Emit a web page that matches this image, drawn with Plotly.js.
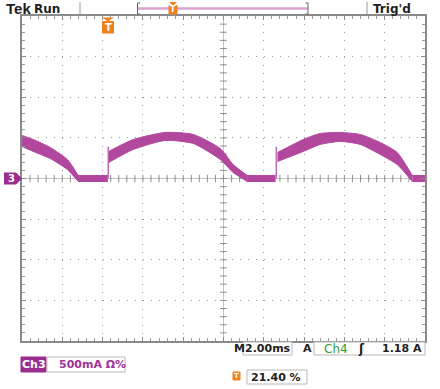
<!DOCTYPE html>
<html>
<head>
<meta charset="utf-8">
<script src="https://cdn.plot.ly/plotly-3.0.1.min.js"></script>
<style>html,body{margin:0;padding:0;background:#fff;}#chart{width:440px;height:389px;}</style>
</head>
<body>
<div id="chart"></div>
<script>
// ---- data (time in ms relative to trigger, current in A) ----
const seg1Time  = [-4.28, -3.72, -2.88, -2.03, -1.49];
const seg1Upper = [0.530, 0.480, 0.382, 0.234, 0.037];
const seg1Lower = [0.394, 0.333, 0.246, 0.111, -0.037];

const seg2Time  = [0.02, 1.24, 2.83, 4.22, 5.56, 6.20, 6.90];
const seg2Upper = [0.333, 0.480, 0.567, 0.542, 0.369, 0.172, 0.037];
const seg2Lower = [0.197, 0.357, 0.468, 0.431, 0.234, 0.074, -0.037];

const seg3Time  = [8.40, 9.68, 10.52, 11.51, 12.51, 13.50, 14.34, 15.09];
const seg3Upper = [0.320, 0.480, 0.554, 0.567, 0.542, 0.443, 0.320, 0.037];
const seg3Lower = [0.209, 0.333, 0.419, 0.456, 0.419, 0.296, 0.172, -0.037];

// flat (zero-current) stretches
const flatStart = [-1.49, 6.90, 15.09];
const flatEnd   = [-0.02, 8.30, 15.72];
const flatUpper = 0.037;
const flatLower = -0.037;

const spikeTimes = [0.0, 8.34];
const spikeHeight = 0.394;

const xRange = [-4.28, 15.72];   // 10 div x 2.00 ms, trigger at 21.40 %
const yRange = [-2, 2];          // 8 div x 500 mA

// ---- styling ----
const WAVE = '#b2479e';
const PL = 22, PR = 425, PT = 16, PB = 341;
const px = x => (x - PL) / (PR - PL);
const py = y => (PB - y) / (PB - PT);
const FONT = 'DejaVu Sans, Verdana, sans-serif';

const traces = [];
function band(t, up, lo, shape) {
  const ln = {color: WAVE, width: 1, shape: shape};
  if (shape === 'spline') ln.smoothing = 0.6;
  traces.push({x: t, y: up, mode: 'lines', line: ln, hoverinfo: 'skip', showlegend: false});
  traces.push({x: t, y: lo, mode: 'lines', fill: 'tonexty', fillcolor: WAVE, line: ln, hoverinfo: 'skip', showlegend: false});
}
band(seg1Time, seg1Upper, seg1Lower, 'spline');
band(seg2Time, seg2Upper, seg2Lower, 'spline');
band(seg3Time, seg3Upper, seg3Lower, 'spline');
flatStart.forEach((s, i) => band([s, flatEnd[i]], [flatUpper, flatUpper], [flatLower, flatLower], 'linear'));
spikeTimes.forEach(t => {
  traces.push({x: [t, t], y: [0, spikeHeight], mode: 'lines', line: {color: '#c46bb5', width: 1.5}, hoverinfo: 'skip', showlegend: false});
});

const shapes = [];
// center cross
shapes.push({type: 'line', xref: 'x', yref: 'y', x0: xRange[0], x1: xRange[1], y0: 0, y1: 0, line: {color: '#c4c4c4', width: 1}, layer: 'below'});
shapes.push({type: 'line', xref: 'x', yref: 'y', x0: 5.72, x1: 5.72, y0: yRange[0], y1: yRange[1], line: {color: '#c4c4c4', width: 1}, layer: 'below'});
for (let i = 1; i < 50; i++) {
  const t = xRange[0] + 0.4 * i;
  shapes.push({type: 'line', xref: 'x', yref: 'y', x0: t, x1: t, y0: -0.045, y1: 0.045, line: {color: '#909090', width: 1}, layer: 'below'});
}
for (let i = 1; i < 40; i++) {
  const a = yRange[0] + 0.1 * i;
  shapes.push({type: 'line', xref: 'x', yref: 'y', x0: 5.55, x1: 5.89, y0: a, y1: a, line: {color: '#909090', width: 1}, layer: 'below'});
}
// header decorations
const pline = (x0, y0, x1, y1, color, w) => ({type: 'line', xref: 'paper', yref: 'paper', x0: px(x0), x1: px(x1), y0: py(y0), y1: py(y1), line: {color: color, width: w}});
shapes.push(pline(80, 2, 80, 15, '#9a9a9a', 1));
shapes.push(pline(367, 2, 367, 15, '#9a9a9a', 1));
shapes.push(pline(138, 8.5, 308, 8.5, '#d9a2d3', 2.5));
shapes.push({type: 'path', xref: 'paper', yref: 'paper', path: `M ${px(140)} ${py(3)} L ${px(137.5)} ${py(3)} L ${px(137.5)} ${py(14)} L ${px(140)} ${py(14)}`, line: {color: '#666', width: 1}});
shapes.push({type: 'path', xref: 'paper', yref: 'paper', path: `M ${px(305.5)} ${py(3)} L ${px(308)} ${py(3)} L ${px(308)} ${py(14)} L ${px(305.5)} ${py(14)}`, line: {color: '#666', width: 1}});
// trigger marker triangles
const tri = (cx, ytop, hw) => ({type: 'path', xref: 'paper', yref: 'paper', path: `M ${px(cx - hw)} ${py(ytop)} L ${px(cx + hw)} ${py(ytop)} L ${px(cx)} ${py(ytop + 4)} Z`, fillcolor: '#f0821e', line: {width: 0}});
shapes.push(tri(108, 17.5, 6));
shapes.push(tri(173, 2, 4));
// trigger marker bodies
const prect = (x0, y0, x1, y1, fill, lc) => ({type: 'rect', xref: 'paper', yref: 'paper', x0: px(x0), x1: px(x1), y0: py(y0), y1: py(y1), fillcolor: fill, line: {color: lc, width: 1}});
shapes.push(prect(102.5, 21.5, 113.5, 33, '#f0821e', '#f0821e'));
shapes.push(prect(169, 5.5, 177, 14, '#f0821e', '#f0821e'));
// ground marker "3"
shapes.push({type: 'path', xref: 'paper', yref: 'paper', path: `M ${px(4)} ${py(172.5)} L ${px(16)} ${py(172.5)} L ${px(22)} ${py(178.5)} L ${px(16)} ${py(184.5)} L ${px(4)} ${py(184.5)} Z`, fillcolor: '#9b2d8f', line: {width: 0}});
// readout boxes
shapes.push(prect(21, 357, 46, 372, '#9b2d8f', '#9b2d8f'));
shapes.push(prect(47, 357, 125, 372, '#ffffff', '#b8b8b8'));
shapes.push(prect(243, 342, 292, 355, '#ffffff', '#b8b8b8'));
shapes.push(prect(314, 342, 425, 355, '#ffffff', '#b8b8b8'));
shapes.push(prect(233, 372, 240, 380, '#f0821e', '#f0821e'));
shapes.push(prect(247, 370, 307, 384, '#ffffff', '#b8b8b8'));

const ann = (x, y, text, opts) => Object.assign({xref: 'paper', yref: 'paper', x: px(x), y: py(y), text: text, showarrow: false, xanchor: 'left', yanchor: 'middle', font: {family: FONT, size: 11, color: '#222'}}, opts || {});
const annotations = [
  ann(4, 8.5, '<b>Tek</b>', {font: {family: 'Liberation Sans, Arial, sans-serif', size: 15, color: '#1e1e1e'}}),
  ann(32, 8.5, '<b>Run</b>', {font: {family: FONT, size: 12, color: '#1e1e1e'}}),
  ann(371, 8.5, "<b>Trig'd</b>", {font: {family: FONT, size: 12, color: '#1e1e1e'}}),
  ann(173, 10, '<b>T</b>', {xanchor: 'center', font: {family: FONT, size: 8, color: '#fff'}}),
  ann(108, 27.5, '<b>T</b>', {xanchor: 'center', font: {family: FONT, size: 10, color: '#fff'}}),
  ann(11, 178.5, '<b>3</b>', {xanchor: 'center', font: {family: FONT, size: 10, color: '#fff'}}),
  ann(33.5, 364.5, '<b>Ch3</b>', {xanchor: 'center', font: {family: FONT, size: 11, color: '#fff'}}),
  ann(57, 364.5, '<b>500mA Ω%</b>', {font: {family: FONT, size: 11, color: '#a0339a'}}),
  ann(232, 348.5, '<b>M</b>'),
  ann(267.5, 348.5, '<b>2.00ms</b>', {xanchor: 'center'}),
  ann(301, 348.5, '<b>A</b>'),
  ann(322, 348.5, 'Ch4', {font: {family: FONT, size: 12, color: '#2e9e3a'}}),
  ann(361, 348.5, '<b>ʃ</b>', {xanchor: 'center', font: {family: FONT, size: 12, color: '#222'}}),
  ann(424, 348.5, '<b>1.18 A</b>', {xanchor: 'right'}),
  ann(236.5, 376, '<b>T</b>', {xanchor: 'center', font: {family: FONT, size: 7, color: '#fff'}}),
  ann(249, 377, '<b>21.40 %</b>')
];

const axisCommon = {
  showticklabels: false, zeroline: false, showline: true, linecolor: '#8a8a8a', linewidth: 2,
  mirror: 'ticks', ticks: 'inside', ticklen: 4, tickcolor: '#8a8a8a', tickwidth: 1,
  showgrid: true, gridcolor: '#9a9a9a', gridwidth: 1
};
const layout = {
  width: 440, height: 389,
  margin: {l: PL, r: 440 - PR, t: PT, b: 389 - PB},
  paper_bgcolor: '#ffffff', plot_bgcolor: '#ffffff',
  showlegend: false,
  xaxis: Object.assign({}, axisCommon, {range: xRange, tick0: xRange[0], dtick: 2, griddash: '1px,7.125px',
    minor: {tick0: xRange[0], dtick: 0.4, ticks: 'inside', ticklen: 3, tickcolor: '#9a9a9a', showgrid: false}}),
  yaxis: Object.assign({}, axisCommon, {range: yRange, tick0: 0, dtick: 0.5, griddash: '1px,7.06px',
    minor: {tick0: 0, dtick: 0.1, ticks: 'inside', ticklen: 3, tickcolor: '#9a9a9a', showgrid: false}}),
  shapes: shapes,
  annotations: annotations
};
Plotly.newPlot('chart', traces, layout, {staticPlot: true, displayModeBar: false});
</script>
</body>
</html>
